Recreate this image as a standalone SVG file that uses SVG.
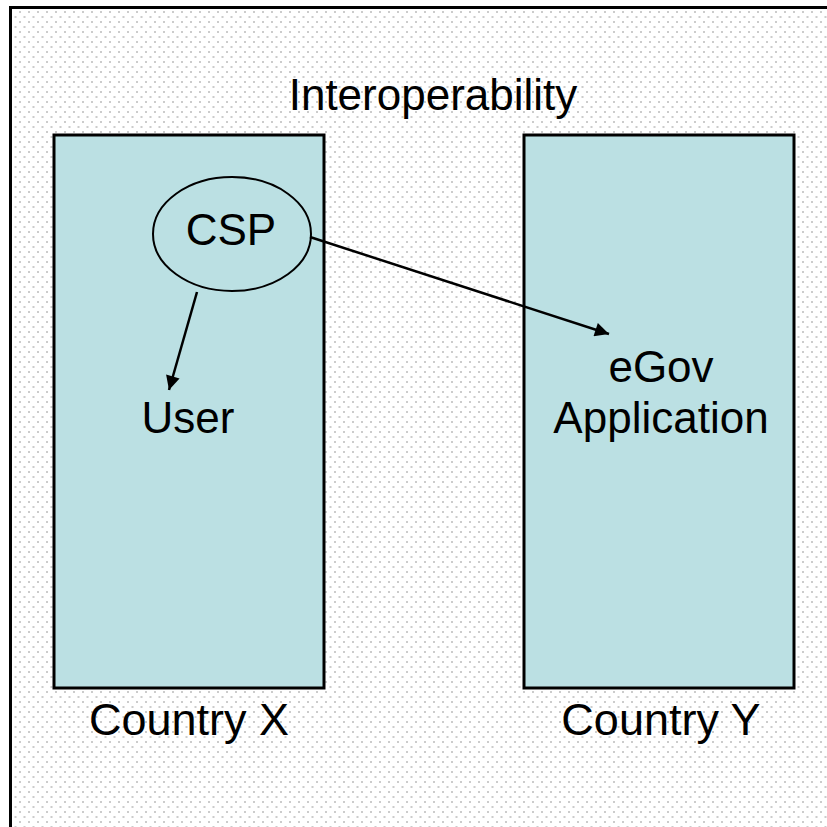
<svg xmlns="http://www.w3.org/2000/svg" width="827" height="827" viewBox="0 0 827 827">
  <defs>
    <pattern id="dots" x="0" y="0" width="9" height="10" patternUnits="userSpaceOnUse">
      <rect width="9" height="10" fill="#ffffff"/>
      <rect x="1" y="1" width="2" height="2" fill="#cccccc"/>
      <rect x="5.5" y="6" width="2" height="2" fill="#cccccc"/>
    </pattern>
    <marker id="arrow" viewBox="0 0 10 10" refX="10" refY="5" markerWidth="19" markerHeight="14" markerUnits="userSpaceOnUse" orient="auto">
      <path d="M0,0 L10,5 L0,10 z" fill="#000"/>
    </marker>
    <style>
      .country { fill: #bbe0e3; stroke: #000; stroke-width: 3; }
      .label { font-family: "Liberation Sans", Arial, sans-serif; font-size: 44px; fill: #000; text-anchor: middle; }
      .big { font-size: 45px; }
      .edge { stroke: #000; stroke-width: 2.5; fill: none; marker-end: url(#arrow); }
    </style>
  </defs>
  <rect x="10.5" y="7.5" width="830" height="830" fill="url(#dots)" stroke="#000" stroke-width="3"/>
  <text class="label" x="433" y="110">Interoperability</text>
  <g id="countryX">
    <rect class="country" x="54" y="135" width="270" height="553"/>
    <text class="label big" x="189" y="735">Country X</text>
  </g>
  <g id="countryY">
    <rect class="country" x="524" y="135" width="270" height="553"/>
    <text class="label big" x="661" y="735">Country Y</text>
  </g>
  <g id="csp">
    <ellipse cx="232" cy="234" rx="79" ry="57" fill="#bbe0e3" stroke="#000" stroke-width="2"/>
    <text class="label" x="231" y="245">CSP</text>
  </g>
  <g id="user">
    <text class="label" x="188" y="433">User</text>
  </g>
  <g id="egov">
    <text class="label" x="661" y="382">eGov</text>
    <text class="label" x="661" y="433">Application</text>
  </g>
  <g id="connectors">
    <line class="edge" x1="197" y1="292" x2="169" y2="390"/>
    <line class="edge" x1="310" y1="237" x2="609" y2="334"/>
  </g>
</svg>
